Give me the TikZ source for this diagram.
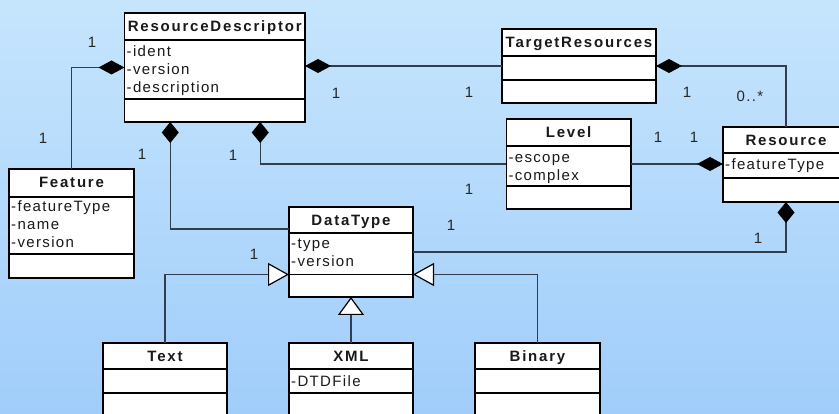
\documentclass[tikz,border=0pt]{standalone}
\usepackage{fontspec}
\newfontfamily\attrfont{Liberation Sans}[LetterSpace=9]
\newfontfamily\titlefont{Liberation Sans}[LetterSpace=12]
\usetikzlibrary{arrows.meta}

\definecolor{bgtop}{RGB}{198,229,253}
\definecolor{bgbot}{RGB}{160,205,250}
\definecolor{wirecol}{RGB}{50,62,75}

\tikzset{
  clsbox/.style={rectangle, draw=black, fill=white, line width=1.3pt, inner sep=0pt, outer sep=0pt},
  clsline/.style={draw=black, line width=1.3pt},
  clstitle/.style={font=\titlefont\bfseries\fontsize{15}{18}\selectfont, inner sep=0pt, text=black!90},
  attr/.style={font=\attrfont\fontsize{15}{18}\selectfont, inner sep=0pt, anchor=base west, text=black!90},
  mult/.style={font=\attrfont\fontsize{15}{18}\selectfont, inner sep=0pt, text=black!85},
  wire/.style={draw=wirecol, line width=1.1pt},
  comph/.style={wire, -{Diamond[length=26pt,width=14pt,color=black]}},
  compv/.style={wire, -{Diamond[length=21pt,width=17pt,color=black]}},
  genh/.style={wire, -{Triangle[length=21pt,width=23pt,color=black,fill=white,line width=1.2pt]}},
  genv/.style={wire, -{Triangle[length=18pt,width=26pt,color=black,fill=white,line width=1.2pt]}},
}

% UML class box: name, left, top, right, header bottom, attribute bottom, bottom, title
\newcommand\umlclass[8]{%
  \node[clsbox, minimum width={(#4-#2)*1pt}, minimum height={(#7-#3)*1pt}]
    (#1) at ({(#2+#4)/2},{(#3+#7)/2}) {};
  \draw[clsline] (#2,#5) -- (#4,#5) (#2,#6) -- (#4,#6);
  \node[clstitle, anchor=base] (#1-title) at ({(#2+#4)/2},{#3+18.4}) {#8};
}

\begin{document}
\begin{tikzpicture}[x=1pt,y=-1pt]
  \shade[top color=bgtop, bottom color=bgbot] (0,0) rectangle (839,414);
  \useasboundingbox (0,0) rectangle (839,414);
  \clip (0,0) rectangle (839,414);

  % classes
  \umlclass{rd}{124.5}{13}{305}{40}{99}{122}{ResourceDescriptor}
  \node[attr] (rd-a1) at (126.5,56.5) {-ident};
  \node[attr] (rd-a2) at (126.5,74.5) {-version};
  \node[attr] (rd-a3) at (126.5,92.5) {-description};

  \umlclass{tr}{502}{29}{656}{56}{80}{103}{TargetResources}

  \umlclass{feat}{9}{169}{134}{197}{254}{278}{Feature}
  \node[attr] (feat-a1) at (11,212) {-featureType};
  \node[attr] (feat-a2) at (11,230) {-name};
  \node[attr] (feat-a3) at (11,248) {-version};

  \umlclass{lvl}{506.3}{119}{631}{146}{186}{209}{Level}
  \node[attr] (lvl-a1) at (508.3,162.5) {-escope};
  \node[attr] (lvl-a2) at (508.3,180.5) {-complex};

  \umlclass{res}{723}{127}{849}{153}{178}{202}{Resource}
  \node[attr] (res-a1) at (725,170) {-featureType};

  \umlclass{dt}{289}{207}{413}{233}{274.5}{297}{DataType}
  \node[attr] (dt-a1) at (291,249) {-type};
  \node[attr] (dt-a2) at (291,267) {-version};

  \umlclass{txt}{103}{343}{227}{369}{393}{417}{Text}
  \umlclass{xml}{289}{343}{413}{369}{393}{417}{XML}
  \node[attr] (xml-a1) at (291,386) {-DTDFile};
  \umlclass{bin}{475}{343}{600}{369}{393}{417}{Binary}

  % compositions
  \draw[comph] (feat.north) |- (rd.west);
  \draw[comph] (tr.west) -- (tr.west -| rd.east);
  \draw[comph] (res.north) |- (tr.east);
  \draw[compv] ([yshift=-22pt]dt.north west) -| ([xshift=-44.5pt]rd.south);
  \draw[compv] (lvl.west) -| ([xshift=45.5pt]rd.south);
  \draw[comph] (lvl.east) -- (lvl.east -| res.west);
  \draw[compv] (dt.east) -| (res.south);

  % generalizations
  \draw[genh] (txt.north) |- ([yshift=-67.5pt]dt.north west);
  \draw[genh] (bin.north) |- ([yshift=-67.5pt]dt.north east);
  \draw[genv] (xml.north) -- (dt.south);

  % multiplicities
  \node[mult] (m-feat-rd) at (92,42) {1};
  \node[mult] (m-feat) at (43,138) {1};
  \node[mult] (m-rd-tr) at (336,93) {1};
  \node[mult] (m-tr-rd) at (469,92) {1};
  \node[mult] (m-tr-res) at (687,92) {1};
  \node[mult] (m-res-tr) at (750,96) {0..*};
  \node[mult] (m-rd-dt) at (142,154) {1};
  \node[mult] (m-rd-lvl) at (233,155) {1};
  \node[mult] (m-lvl-rd) at (469,189) {1};
  \node[mult] (m-lvl-res) at (658,137) {1};
  \node[mult] (m-res-lvl) at (694,137) {1};
  \node[mult] (m-dt-res) at (451,225) {1};
  \node[mult] (m-res-dt) at (758,238) {1};
  \node[mult] (m-dt-gen) at (254,254) {1};
\end{tikzpicture}
\end{document}
